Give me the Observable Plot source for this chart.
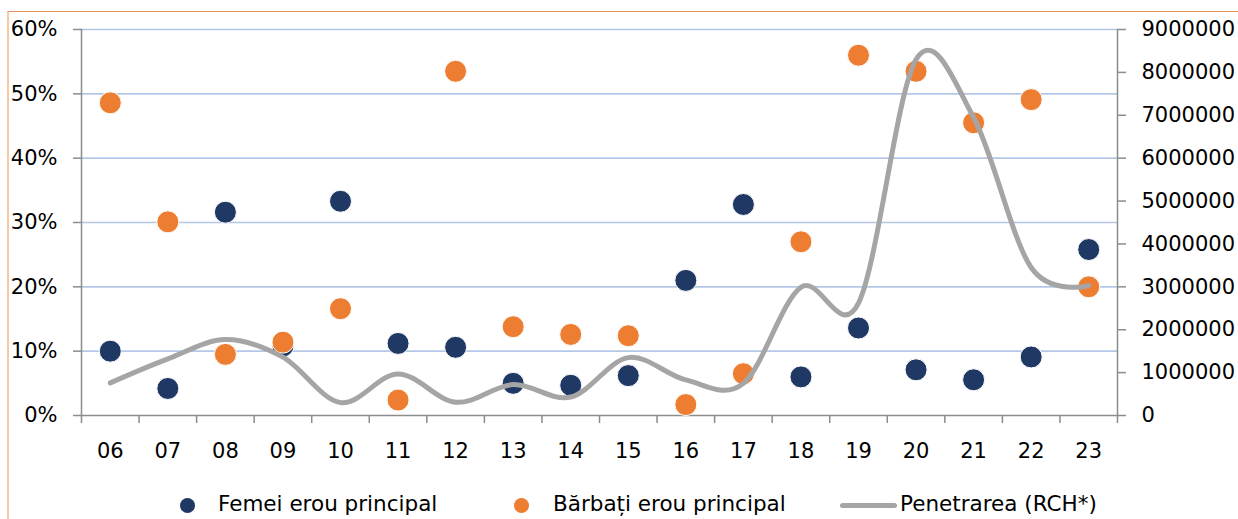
<!DOCTYPE html>
<html><head><meta charset="utf-8">
<script src="https://cdn.jsdelivr.net/npm/d3@7"></script>
<script src="https://cdn.jsdelivr.net/npm/@observablehq/plot@0.6"></script>
<style>
body{margin:0;background:#fff;font-family:"DejaVu Sans",sans-serif;}
#wrap{position:relative;width:1238px;height:519px;overflow:hidden;background:#fff;}
#border{position:absolute;left:7px;top:11px;width:1300px;height:600px;border-left:2px solid #f9c8a3;border-top:1px solid #e8915a;}
#chart{position:absolute;left:0;top:0;}
#legend{position:absolute;top:490px;left:0;width:1238px;height:28px;font-size:21.5px;color:#000;}
.lbl{position:absolute;top:0;height:28px;line-height:28px;white-space:nowrap;}
.sym{position:absolute;}
</style>
</head><body>
<div id="wrap"><div id="border"></div><div id="chart"></div><div id="legend"></div></div>
<script>
const years = ["06","07","08","09","10","11","12","13","14","15","16","17","18","19","20","21","22","23"];
const femei = [10.0, 4.2, 31.6, 10.8, 33.3, 11.2, 10.6, 5.0, 4.7, 6.2, 21.0, 32.8, 6.0, 13.6, 7.1, 5.55, 9.1, 25.8];
const barbati = [48.6, 30.1, 9.5, 11.4, 16.6, 2.4, 53.5, 13.8, 12.6, 12.4, 1.7, 6.5, 27.0, 56.0, 53.5, 45.5, 49.1, 20.0];
const penetrare = [760000, 1320000, 1770000, 1360000, 300000, 970000, 310000, 720000, 430000, 1350000, 830000, 750000, 2990000, 2620000, 8300000, 6950000, 3450000, 3030000];
const leftTicks = [0, 10, 20, 30, 40, 50, 60];
const rightTicks = [0, 1000000, 2000000, 3000000, 4000000, 5000000, 6000000, 7000000, 8000000, 9000000];
const seriesNames = ["Femei erou principal", "Bărbați erou principal", "Penetrarea (RCH*)"];
const colors = ["#203864", "#ED7D31", "#A5A5A5"];

const W = 1238, H = 470, mL = 81, mR = 121, mT = 29, mB = 55;
const bw = (W - mL - mR) / years.length;
const ratio = rightTicks[rightTicks.length - 1] / leftTicks[leftTicks.length - 1];
const rows = years.map((y, i) => ({year: y, f: femei[i], b: barbati[i], p: penetrare[i]}));
const axisColor = "#8c8c8c";

const chart = Plot.plot({
  width: W, height: H, marginLeft: mL, marginRight: mR, marginTop: mT, marginBottom: mB,
  style: {fontFamily: "DejaVu Sans", fontSize: "21px", color: "#000", background: "transparent"},
  x: {type: "band", domain: years, padding: 0, round: false},
  y: {domain: [0, 60]},
  marks: [
    Plot.gridY(leftTicks.filter(t => t > 0), {stroke: "#b4c7e7", strokeOpacity: 1, strokeWidth: 1.6}),
    Plot.axisY(leftTicks, {anchor: "left", tickSize: 8, tickPadding: 16, tickFormat: d => d + "%", stroke: axisColor, strokeWidth: 1.5, fill: "#000", label: null}),
    Plot.axisY(rightTicks.map(v => v / ratio), {anchor: "right", tickSize: 8, tickPadding: 16, tickFormat: d => String(Math.round(d * ratio)), stroke: axisColor, strokeWidth: 1.5, fill: "#000", label: null}),
    Plot.axisX({tickSize: 0, tickPadding: 28, fill: "#000", label: null}),
    Plot.axisX(years, {tickSize: 8, dx: -bw / 2, tickFormat: () => "", stroke: axisColor, strokeWidth: 1.5, label: null}),
    Plot.axisX([years[years.length - 1]], {tickSize: 8, dx: bw / 2, tickFormat: () => "", stroke: axisColor, strokeWidth: 1.5, label: null}),
    Plot.frame({anchor: "left", stroke: axisColor, strokeWidth: 1.5}),
    Plot.frame({anchor: "right", stroke: axisColor, strokeWidth: 1.5}),
    Plot.frame({anchor: "bottom", stroke: axisColor, strokeWidth: 1.5}),
    Plot.dot(rows, {x: "year", y: "f", r: 11, fill: colors[0], stroke: "white", strokeWidth: 1}),
    Plot.dot(rows, {x: "year", y: "b", r: 11, fill: colors[1], stroke: "white", strokeWidth: 1}),
    Plot.line(rows, {x: "year", y: d => d.p / ratio, curve: "cardinal", tension: 0, stroke: colors[2], strokeWidth: 5, strokeLinecap: "round"})
  ]
});
document.getElementById("chart").appendChild(chart);

// legend
const legend = d3.select("#legend");
const layout = [{sym: 187, text: 218, kind: "dot"}, {sym: 521, text: 553, kind: "dot"}, {sym: 868, text: 900, kind: "line"}];
seriesNames.forEach((name, i) => {
  const L = layout[i];
  if (L.kind === "dot") {
    legend.append("span").attr("class", "sym")
      .style("left", (L.sym - 7.5) + "px").style("top", "7.5px")
      .style("width", "15px").style("height", "15px").style("border-radius", "50%")
      .style("background", colors[i]);
  } else {
    legend.append("span").attr("class", "sym")
      .style("left", (L.sym - 28) + "px").style("top", "12.5px")
      .style("width", "57px").style("height", "5px").style("border-radius", "2.5px")
      .style("background", colors[i]);
  }
  legend.append("span").attr("class", "lbl").style("left", L.text + "px").text(name);
});
</script>
</body></html>
